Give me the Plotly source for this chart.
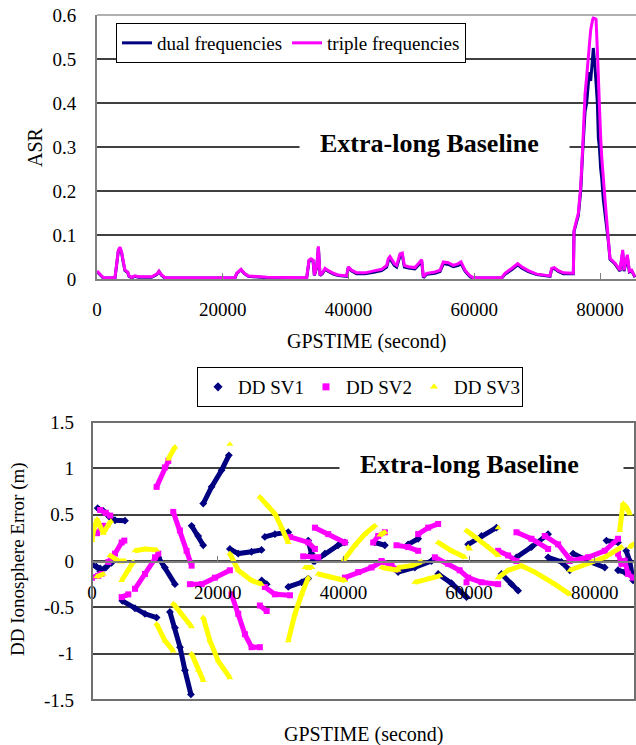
import plotly.graph_objects as go

# ---------------- Top chart data (ASR) ----------------
ASR_T = [0, 740, 1010, 2860, 3130, 3390, 3660, 3920, 4190, 4450, 4880, 5090, 5510, 6040, 6570,
         8690, 9490, 9860, 10280, 10820, 21950, 22210, 22900, 23430, 24070, 26990, 33350, 33720,
         34040, 34360, 34570, 34940, 35210, 35470, 35840, 36270, 36800, 37590, 38380, 39710, 39970,
         40500, 41300, 42625, 44215, 45275, 46070, 46335, 46600, 46970, 47290, 47660, 47925, 48190,
         48560, 48880, 49515, 50575, 51105, 51640, 51905, 52435, 53760, 54555, 55085, 55880, 56675,
         57470, 57895, 58530, 59325, 59855, 64360, 64890, 65950, 66905, 67540, 68600, 69930, 72050,
         72315, 72740, 73375, 74170, 75760, 75870, 76560, 76930, 77250, 77620, 77880, 78150, 78300,
         78520, 78830, 78940, 79210, 79370, 79580, 79740, 79900, 80110, 80270, 80530, 80800, 81330,
         81590, 82390, 83180, 83610, 83820, 84350, 84670, 85040, 85570]

TRIPLE = [0.018, 0.007, 0.003, 0.003, 0.043, 0.065, 0.072, 0.061, 0.039, 0.020, 0.016, 0.007, 0.004, 0.007, 0.005,
          0.005, 0.011, 0.018, 0.009, 0.003, 0.003, 0.013, 0.022, 0.013, 0.007, 0.004, 0.003, 0.043,
          0.046, 0.043, 0.009, 0.028, 0.074, 0.009, 0.014, 0.024, 0.019, 0.013, 0.009, 0.007, 0.028,
          0.020, 0.014, 0.014, 0.019, 0.022, 0.031, 0.046, 0.051, 0.043, 0.035, 0.031, 0.043, 0.057,
          0.059, 0.031, 0.028, 0.026, 0.035, 0.044, 0.005, 0.013, 0.016, 0.020, 0.039, 0.037, 0.031,
          0.035, 0.039, 0.020, 0.007, 0.003, 0.003, 0.013, 0.024, 0.035, 0.028, 0.019, 0.011, 0.007,
          0.024, 0.026, 0.019, 0.014, 0.013, 0.111, 0.150, 0.210, 0.300, 0.420, 0.460, 0.505, 0.535,
          0.566, 0.590, 0.593, 0.592, 0.590, 0.520, 0.450, 0.384, 0.320, 0.278, 0.220, 0.180, 0.089,
          0.047, 0.036, 0.020, 0.066, 0.020, 0.055, 0.018, 0.020, 0.005]

DUAL = [0.017, 0.006, 0.002, 0.002, 0.041, 0.063, 0.070, 0.059, 0.037, 0.019, 0.015, 0.006, 0.003, 0.006, 0.004,
        0.004, 0.010, 0.017, 0.008, 0.002, 0.002, 0.012, 0.021, 0.012, 0.006, 0.003, 0.002, 0.041,
        0.044, 0.041, 0.008, 0.026, 0.071, 0.008, 0.012, 0.022, 0.017, 0.011, 0.008, 0.006, 0.026,
        0.018, 0.012, 0.012, 0.016, 0.019, 0.027, 0.041, 0.046, 0.038, 0.031, 0.027, 0.039, 0.052,
        0.054, 0.027, 0.025, 0.023, 0.031, 0.040, 0.003, 0.011, 0.013, 0.017, 0.035, 0.033, 0.028,
        0.031, 0.035, 0.018, 0.005, 0.002, 0.002, 0.011, 0.021, 0.032, 0.025, 0.017, 0.010, 0.006,
        0.022, 0.024, 0.017, 0.012, 0.012, 0.108, 0.145, 0.200, 0.290, 0.380, 0.400, 0.450, 0.470,
        0.450, 0.520, 0.525, 0.480, 0.440, 0.400, 0.320, 0.300, 0.250, 0.230, 0.180, 0.150, 0.085,
        0.045, 0.034, 0.018, 0.060, 0.018, 0.050, 0.016, 0.018, 0.004]

ASR_TICKS = [0, 20000, 40000, 60000, 80000]
ASR_TICK_TEXT = ["0", "20000", "40000", "60000", "80000"]
ASR_Y_TICKS = [0, 0.1, 0.2, 0.3, 0.4, 0.5, 0.6]
ASR_Y_TEXT = ["0", "0.1", "0.2", "0.3", "0.4", "0.5", "0.6"]

# ---------------- Bottom chart data (DD ionosphere error) ----------------
SV1_SEGMENTS = [
    [(900, 0.57), (1800, 0.54), (2860, 0.47), (3660, 0.44), (5250, 0.435)],
    [(0, -0.04), (700, -0.06), (1300, -0.08)],
    [(1300, -0.11), (2200, -0.07), (3100, -0.02)],
    [(4820, -0.43), (6840, -0.51), (8430, -0.57), (10280, -0.61)],
    [(12400, -0.55), (13200, -0.72), (14000, -0.93), (14790, -1.18), (15740, -1.44)],
    [(10550, 0.04), (11600, -0.07), (13200, -0.25)],
    [(15850, 0.38), (16900, 0.27), (17700, 0.17)],
    [(17700, 0.62), (19030, 0.80), (20620, 0.98), (21780, 1.14)],
    [(21940, 0.13), (23270, 0.08), (25390, 0.10), (26980, 0.12)],
    [(27500, 0.26), (29100, 0.29), (31230, 0.31)],
    [(27000, -0.21), (27800, -0.25)],
    [(31230, -0.28), (33350, -0.23), (34410, -0.19)],
    [(34410, 0.22), (34940, 0.08), (35200, 0.0)],
    [(35470, 0.0), (37060, 0.08), (39170, 0.17), (40240, 0.20)],
    [(45000, 0.20), (46600, 0.17)],
    [(48700, -0.12), (51370, -0.07), (54020, 0.0)],
    [(50300, 0.18), (51900, 0.24)],
    [(55080, -0.14), (57200, -0.24), (59590, -0.39)],
    [(59855, 0.18), (61975, 0.27), (64360, 0.36)],
    [(65155, -0.14), (66745, -0.25), (67805, -0.32)],
    [(67540, 0.04), (69925, 0.15), (72575, 0.29)],
    [(72575, 0.04), (74695, -0.01), (76020, -0.10)],
    [(76550, 0.08), (78935, 0.0), (81585, -0.07)],
    [(81850, 0.22), (83700, 0.20)],
    [(83700, -0.10), (84760, -0.12)],
    [(85000, 0.11), (85560, 0.0), (86090, -0.21)],
]

SV2_SEGMENTS = [
    [(0, -0.18), (1000, -0.16), (1500, -0.14)],
    [(1300, 0.55), (2200, 0.52), (2900, 0.49)],
    [(800, 0.30), (1800, 0.38)],
    [(2600, -0.01), (3660, 0.08), (4720, 0.20), (5140, 0.22)],
    [(4720, -0.39), (5780, -0.36)],
    [(6840, -0.30), (8430, -0.14), (10020, 0.04), (10550, 0.08)],
    [(10280, 0.80), (11600, 1.01), (12140, 1.08)],
    [(12930, 0.53), (13990, 0.33), (15050, 0.11), (15850, -0.05)],
    [(15580, -0.25), (17440, -0.25), (19560, -0.18), (21940, -0.10)],
    [(22200, -0.36), (23270, -0.57), (24330, -0.79), (25390, -0.93), (26710, -0.93)],
    [(27500, -0.28), (29100, -0.36), (31500, -0.37)],
    [(26710, -0.48), (27800, -0.54)],
    [(31500, 0.26), (34410, 0.20), (35470, 0.13)],
    [(33600, 0.05), (36000, 0.04)],
    [(35470, 0.36), (37590, 0.29), (40240, 0.20)],
    [(40240, -0.18), (42360, -0.12), (44480, -0.07), (46070, -0.01)],
    [(44740, 0.20), (45540, 0.27), (46600, 0.31)],
    [(46070, 0.0), (47660, -0.05), (48450, -0.09)],
    [(48450, 0.17), (50300, 0.15), (51900, 0.11)],
    [(51900, 0.29), (53490, 0.36), (55080, 0.40)],
    [(54550, 0.04), (56670, -0.03), (58500, -0.10), (59855, -0.18), (61975, -0.23), (64625, -0.25)],
    [(59590, -0.23)],
    [(64625, 0.11), (66215, 0.06), (67540, 0.0)],
    [(67540, 0.31), (69925, 0.24), (72575, 0.13)],
    [(72045, 0.27), (74165, 0.18), (76020, 0.02)],
    [(76020, 0.0), (78935, 0.04), (81585, 0.11), (83700, 0.24)],
    [(83700, 0.08), (84230, -0.03), (84760, 0.0), (85300, -0.14), (86090, -0.18)],
]

SV3_SEGMENTS = [
    [(0, 0.22), (300, 0.35), (800, 0.45), (1200, 0.38), (1800, 0.30), (2500, 0.38), (3000, 0.43)],
    [(740, -0.17), (1800, -0.14)],
    [(2860, 0.06), (4190, 0.0), (5250, 0.0)],
    [(4720, -0.21), (5780, -0.10), (6570, -0.01)],
    [(6840, 0.11), (8430, 0.13), (10280, 0.12)],
    [(12140, 1.10), (13200, 1.23)],
    [(10280, -0.68), (11600, -0.86), (12930, -0.97)],
    [(12930, -0.46), (14260, -0.57), (15850, -0.71)],
    [(15850, -1.00), (16900, -1.18), (17700, -1.29)],
    [(17700, -0.61), (18760, -0.86), (20090, -1.08), (21940, -1.26)],
    [(21940, 1.26)],
    [(21940, 0.08), (23270, -0.10), (25390, -0.21), (26980, -0.25)],
    [(26710, 0.69), (28040, 0.60), (29100, 0.51), (30170, 0.36), (31230, 0.20)],
    [(31230, -0.86), (32290, -0.57), (33350, -0.36), (34410, -0.18)],
    [(33900, -0.07), (35000, -0.07)],
    [(35990, -0.14), (38120, -0.18), (40240, -0.21)],
    [(39970, 0.0), (41830, 0.17), (43420, 0.29), (45010, 0.38)],
    [(45800, 0.28), (46600, 0.31)],
    [(46070, -0.07), (47660, -0.09), (48720, -0.10)],
    [(48720, -0.07), (50830, -0.05), (52420, -0.01)],
    [(51370, -0.23), (53490, -0.19), (55340, -0.16)],
    [(55080, 0.20), (57200, 0.11), (59320, 0.04)],
    [(59590, 0.33), (61445, 0.24), (63035, 0.15), (64625, 0.06)],
    [(59855, 0.15), (60100, 0.13)],
    [(64625, -0.18), (66215, -0.10), (68335, -0.05), (70455, -0.12), (73635, -0.25), (76020, -0.36)],
    [(64625, 0.36)],
    [(76020, -0.10), (78935, -0.03), (81585, 0.04), (84235, 0.15)],
    [(83965, 0.33), (84500, 0.62), (85030, 0.58), (85560, 0.51)],
    [(85560, 0.15), (86090, 0.18)],
]

DD_TICKS = [0, 20000, 40000, 60000, 80000]
DD_TICK_TEXT = ["0", "20000", "40000", "60000", "80000"]
DD_Y_TICKS = [-1.5, -1, -0.5, 0, 0.5, 1, 1.5]
DD_Y_TEXT = ["-1.5", "-1", "-0.5", "0", "0.5", "1", "1.5"]

# ---------------- Figure ----------------
W, H = 636, 745
FONT = "Liberation Serif"
NAVY, MAGENTA, YELLOW = "#000080", "#FF00FF", "#FFFF00"


def px(x):
    return x / W


def py(y):
    return 1 - y / H


def flatten(segments):
    xs, ys = [], []
    for seg in segments:
        for t, v in seg:
            xs.append(t)
            ys.append(v)
        xs.append(None)
        ys.append(None)
    return xs, ys


fig = go.Figure()

fig.add_trace(go.Scatter(x=ASR_T, y=DUAL, mode="lines", name="dual frequencies",
                         line=dict(color=NAVY, width=3), xaxis="x", yaxis="y", legend="legend"))
fig.add_trace(go.Scatter(x=ASR_T, y=TRIPLE, mode="lines", name="triple frequencies",
                         line=dict(color=MAGENTA, width=3), xaxis="x", yaxis="y", legend="legend"))

for segs, color, sym in [(SV1_SEGMENTS, NAVY, "diamond"),
                         (SV2_SEGMENTS, MAGENTA, "square"),
                         (SV3_SEGMENTS, YELLOW, "triangle-up")]:
    xs, ys = flatten(segs)
    fig.add_trace(go.Scatter(x=xs, y=ys, mode="lines+markers", showlegend=False,
                             line=dict(color=color, width=5),
                             marker=dict(color=color, symbol=sym, size=6),
                             xaxis="x2", yaxis="y2", connectgaps=False))
for color, sym, name in [(NAVY, "diamond", "DD SV1"), (MAGENTA, "square", "DD SV2"),
                         (YELLOW, "triangle-up", "DD SV3")]:
    fig.add_trace(go.Scatter(x=[None], y=[None], mode="markers", name=name,
                             marker=dict(color=color, symbol=sym, size=7),
                             xaxis="x2", yaxis="y2", legend="legend2"))

top_x0, top_x1 = 97, 636
top_y0, top_y1 = 15, 279
bot_x0, bot_x1 = 92, 635
bot_y0, bot_y1 = 422, 700
zero_y = 562

tickfont = dict(family=FONT, size=19, color="black")
GRID = "#404040"
legend_font = dict(family=FONT, size=19, color="black")

fig.update_layout(
    width=W, height=H, autosize=False,
    margin=dict(l=0, r=0, t=0, b=0, autoexpand=False),
    paper_bgcolor="white", plot_bgcolor="white",
    font=dict(family=FONT, size=19, color="black"),
    xaxis=dict(domain=[px(top_x0), px(top_x1)], range=[0, 85725], anchor="y", automargin=False,
               tickvals=ASR_TICKS, ticktext=ASR_TICK_TEXT, tickfont=tickfont,
               showgrid=False, zeroline=False, showline=True, linecolor="#808080", linewidth=2,
               ticks="inside", ticklen=6, tickcolor="#808080", ticklabelstandoff=12),
    yaxis=dict(domain=[py(top_y1), py(top_y0)], range=[0, 0.6], anchor="x", automargin=False,
               tickvals=ASR_Y_TICKS, ticktext=ASR_Y_TEXT, tickfont=tickfont,
               showgrid=True, gridcolor=GRID, gridwidth=2, zeroline=False,
               showline=True, linecolor="#808080", linewidth=2, ticks="", ticklabelstandoff=15),
    xaxis2=dict(domain=[px(bot_x0), px(bot_x1)], range=[0, 86400], anchor="free", automargin=False,
                position=py(zero_y), tickvals=DD_TICKS, ticktext=DD_TICK_TEXT, tickfont=tickfont,
                showgrid=False, zeroline=False, showline=True, linecolor="#808080", linewidth=2,
                ticks="inside", ticklen=5, tickcolor="#808080", ticklabelstandoff=13),
    yaxis2=dict(domain=[py(bot_y1), py(bot_y0)], range=[-1.5, 1.5], anchor="x2", automargin=False,
                tickvals=DD_Y_TICKS, ticktext=DD_Y_TEXT, tickfont=tickfont,
                showgrid=True, gridcolor=GRID, gridwidth=2, zeroline=False,
                showline=False, ticks="", ticklabelstandoff=17),
    legend=dict(x=px(116), y=py(23), xanchor="left", yanchor="top", orientation="h",
                bordercolor="black", borderwidth=1, bgcolor="white",
                font=legend_font, itemwidth=30),
    legend2=dict(x=px(197), y=py(367), xanchor="left", yanchor="top", orientation="h",
                 bordercolor="black", borderwidth=1, bgcolor="white",
                 font=legend_font, itemwidth=30,
                 entrywidth=63, entrywidthmode="pixels"),
    showlegend=True,
)

shapes = [
    dict(type="line", xref="paper", yref="paper", x0=px(top_x0), x1=px(top_x1),
         y0=py(top_y0), y1=py(top_y0), line=dict(color="#b0b0b0", width=2)),
    dict(type="rect", xref="paper", yref="paper", x0=px(bot_x0), x1=px(bot_x1),
         y0=py(bot_y1), y1=py(bot_y0), line=dict(color="#707070", width=2)),
]
fig.update_layout(shapes=shapes)

ann = []
ann.append(dict(xref="paper", yref="paper", x=px(434.5), y=py(145), text=" ", showarrow=False,
                width=267, height=30, bgcolor="white", xanchor="center", yanchor="middle"))
ann.append(dict(xref="paper", yref="paper", x=px(481.5), y=py(466), text=" ", showarrow=False,
                width=281, height=30, bgcolor="white", xanchor="center", yanchor="middle"))
title_font = dict(family=FONT, size=26, color="black")
ann.append(dict(xref="paper", yref="paper", x=px(429), y=py(143), text="<b>Extra-long Baseline</b>",
                showarrow=False, font=title_font, xanchor="center", yanchor="middle"))
ann.append(dict(xref="paper", yref="paper", x=px(469), y=py(464.5), text="<b>Extra-long Baseline</b>",
                showarrow=False, font=title_font, xanchor="center", yanchor="middle"))
axis_font = dict(family=FONT, size=20, color="black")
ann.append(dict(xref="paper", yref="paper", x=px(35), y=py(147), text="ASR", textangle=-90,
                showarrow=False, font=axis_font, xanchor="center", yanchor="middle"))
ann.append(dict(xref="paper", yref="paper", x=px(366), y=py(341), text="GPSTIME (second)",
                showarrow=False, font=axis_font, xanchor="center", yanchor="middle"))
ann.append(dict(xref="paper", yref="paper", x=px(18), y=py(559), text="DD Ionosphere Error (m)",
                textangle=-90, showarrow=False, font=dict(family=FONT, size=19, color="black"),
                xanchor="center", yanchor="middle"))
ann.append(dict(xref="paper", yref="paper", x=px(363), y=py(734), text="GPSTIME (second)",
                showarrow=False, font=axis_font, xanchor="center", yanchor="middle"))
fig.update_layout(annotations=ann)

fig.write_html("out.html", config={"displayModeBar": False},
               post_script="document.body.style.margin='0px';")
